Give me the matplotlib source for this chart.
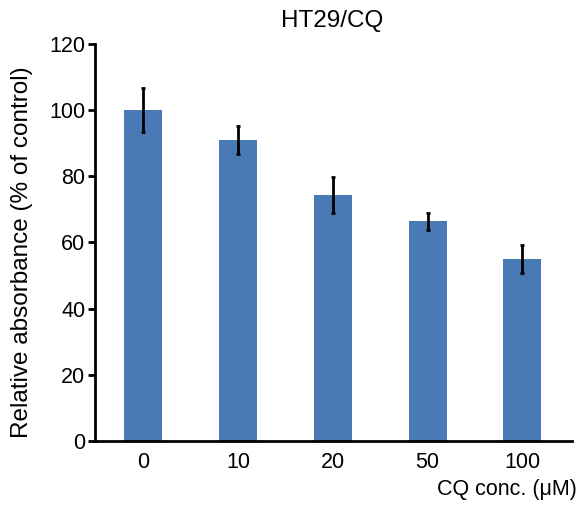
import numpy as np
import matplotlib.pyplot as plt

plt.rcParams['font.family'] = ['Liberation Sans', 'DejaVu Sans']

conc_labels = ['0', '10', '20', '50', '100']
absorbance = [100.0, 90.9, 74.3, 66.3, 54.9]
errors = [6.6, 4.3, 5.4, 2.5, 4.2]

fig = plt.figure(figsize=(5.84, 5.08), dpi=100)
ax = fig.add_axes([0.163, 0.132, 0.816, 0.782])

x = np.arange(len(conc_labels))
ax.bar(x, absorbance, width=0.4, color='#4a7ab5')
ax.errorbar(x, absorbance, yerr=errors, fmt='none', ecolor='black',
            elinewidth=2, capsize=1.5, capthick=2)

ax.set_xlim(-0.505, 4.52)
ax.set_ylim(0, 120)
ax.set_yticks(np.arange(0, 121, 20))
ax.set_xticks(x)
ax.set_xticklabels(conc_labels)
ax.tick_params(axis='x', length=0, pad=8, labelsize=15.5)
ax.tick_params(axis='y', length=5, width=2, labelsize=15.5, pad=2)
for s in ['top', 'right']:
    ax.spines[s].set_visible(False)
for s in ['left', 'bottom']:
    ax.spines[s].set_linewidth(2)

ax.set_ylabel('Relative absorbance (% of control)', fontsize=17.5)
ax.yaxis.set_label_coords(-0.13, 0.476)
fig.text(0.569, 0.958, 'HT29/CQ', ha='center', va='center', fontsize=17.5)
fig.text(0.988, 0.037, 'CQ conc. (μM)', ha='right', va='center', fontsize=15.5)

plt.savefig('out.png', dpi=100)
